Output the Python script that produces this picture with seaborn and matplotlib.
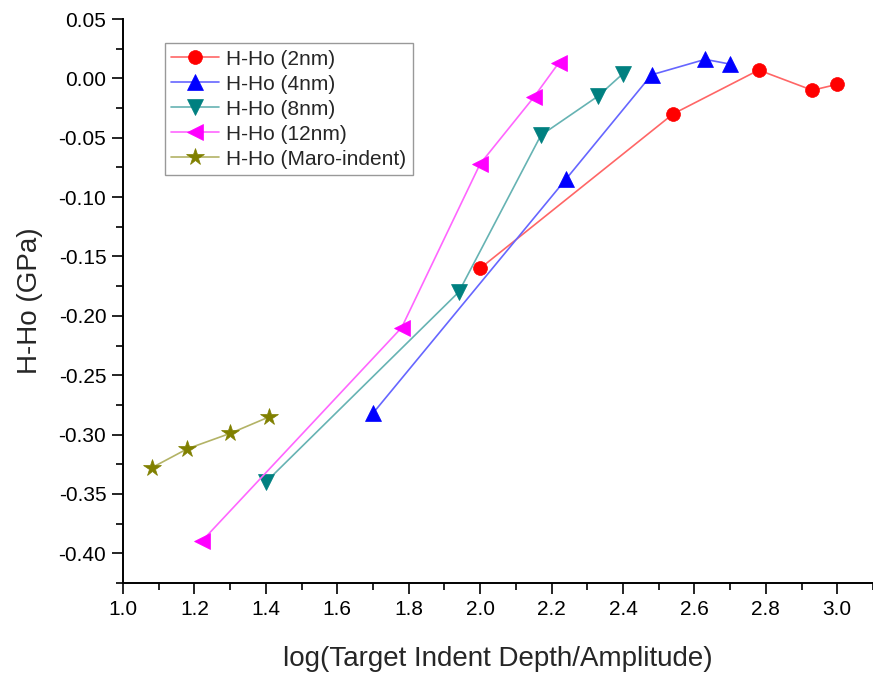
import numpy as np
import pandas as pd
import seaborn as sns
import matplotlib
matplotlib.use("Agg")
from matplotlib import pyplot as plt
from matplotlib.colors import to_rgb
from matplotlib.ticker import MultipleLocator, FormatStrFormatter

sns.set_theme(style="ticks")
plt.rcParams['font.family'] = ['Liberation Sans', 'DejaVu Sans']
plt.rcParams['axes.unicode_minus'] = False

# values
x_2nm = [2.00, 2.54, 2.78, 2.93, 3.00]
y_2nm = [-0.160, -0.030, 0.007, -0.010, -0.005]
x_4nm = [1.70, 2.24, 2.48, 2.63, 2.70]
y_4nm = [-0.282, -0.085, 0.003, 0.016, 0.012]
x_8nm = [1.40, 1.94, 2.17, 2.33, 2.40]
y_8nm = [-0.340, -0.180, -0.048, -0.015, 0.004]
x_12nm = [1.22, 1.78, 2.00, 2.15, 2.22]
y_12nm = [-0.390, -0.210, -0.072, -0.016, 0.013]
x_macro = [1.08, 1.18, 1.30, 1.41]
y_macro = [-0.328, -0.312, -0.299, -0.285]

series = [
    ("H-Ho (2nm)", x_2nm, y_2nm, "#FF0000", "o", 10),
    ("H-Ho (4nm)", x_4nm, y_4nm, "#0000FF", "^", 11),
    ("H-Ho (8nm)", x_8nm, y_8nm, "#008080", "v", 11),
    ("H-Ho (12nm)", x_12nm, y_12nm, "#FF00FF", "<", 11),
    ("H-Ho (Maro-indent)", x_macro, y_macro, "#808000", "*", 13),
]

def lighter(c, f=0.6):
    r, g, b = to_rgb(c)
    return (r * f + 1 - f, g * f + 1 - f, b * f + 1 - f)

fig = plt.figure(figsize=(8.73, 6.81), dpi=100)
ax = fig.add_axes([123 / 873, 98 / 681, 750 / 873, 564 / 681])

for name, xs, ys, col, mk, ms in series:
    df = pd.DataFrame({"x": xs, "y": ys})
    sns.lineplot(data=df, x="x", y="y", ax=ax, sort=False, estimator=None,
                 color=lighter(col), linewidth=1.2, marker=mk, markersize=ms,
                 markerfacecolor=col, markeredgecolor=col, markeredgewidth=0.5,
                 label=name)

ax.set_xlim(1.0, 3.1)
ax.set_ylim(-0.425, 0.05)
ax.xaxis.set_major_locator(MultipleLocator(0.2))
ax.xaxis.set_minor_locator(MultipleLocator(0.1))
ax.yaxis.set_major_locator(MultipleLocator(0.05))
ax.yaxis.set_minor_locator(MultipleLocator(0.025))
ax.xaxis.set_major_formatter(FormatStrFormatter("%.1f"))
ax.yaxis.set_major_formatter(FormatStrFormatter("%.2f"))

sns.despine(ax=ax)
for s in ["left", "bottom"]:
    ax.spines[s].set_linewidth(1.4)
    ax.spines[s].set_color("black")
ax.tick_params(which="major", direction="out", length=8, width=1.2,
               labelsize=15, colors="black", pad=4)
ax.tick_params(which="minor", direction="out", length=5, width=1.2, colors="black")

ax.set_xlabel("log(Target Indent Depth/Amplitude)", fontsize=20, labelpad=20)
ax.set_ylabel("H-Ho (GPa)", fontsize=20, labelpad=11)

leg = ax.legend(loc="upper left", bbox_to_anchor=(0.056, 0.957), borderaxespad=0,
                fontsize=15, frameon=True, fancybox=False, handlelength=2.3,
                handletextpad=0.35, labelspacing=0.29, borderpad=0.3)
leg.get_frame().set_edgecolor("#808080")
leg.get_frame().set_linewidth(1.0)

fig.savefig("out.png", dpi=100)
